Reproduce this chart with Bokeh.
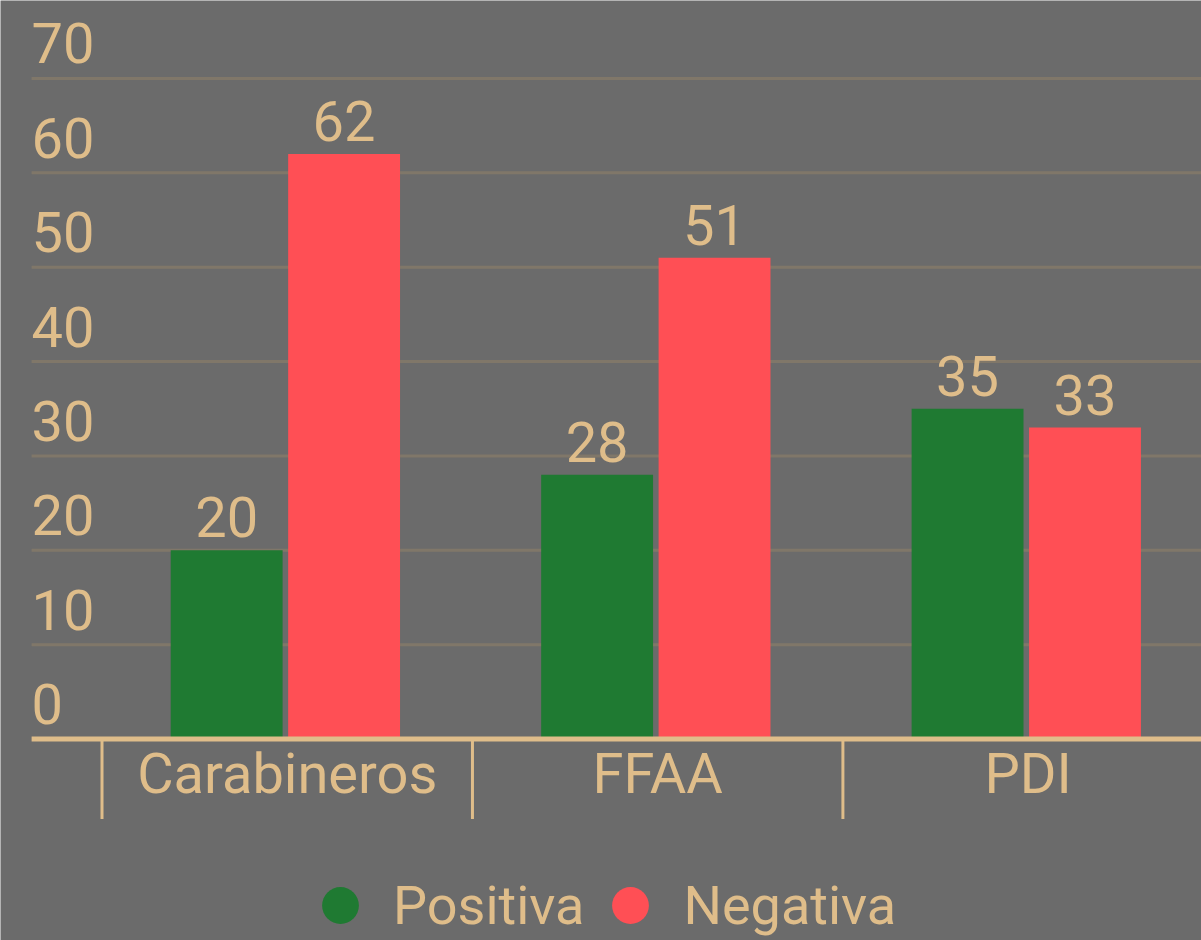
from bokeh.plotting import figure
from bokeh.models import Range1d, Legend, LegendItem, ColumnDataSource
from bokeh.core.properties import value
from bokeh.transform import dodge
from bokeh.embed import file_html
from bokeh.resources import INLINE

# ---- data ----
categories = ["Carabineros", "FFAA", "PDI"]
positiva = [20, 28, 35]
negativa = [62, 51, 33]
y_ticks = [0, 10, 20, 30, 40, 50, 60, 70]
series_names = ["Positiva", "Negativa"]

# ---- style ----
BG = "#6b6b6b"
TAN = "#dfbd8a"
GRID = "#807769"
GREEN = "#1f7a32"
RED = "#ff4f55"
FONT = "Roboto"

W, H = 1201, 940
Y0, Y1 = -21.35, 78.26
X0, X1 = -0.274, 2.968
CONTENT_LEFT = -0.19          # where grid lines and tick labels start
px_per_unit = H / (Y1 - Y0)

p = figure(width=W, height=H, output_backend="svg", toolbar_location=None,
           x_range=Range1d(X0, X1), y_range=Range1d(Y0, Y1),
           x_axis_location=None, y_axis_location=None,
           min_border_left=0, min_border_right=0, min_border_top=0, min_border_bottom=0,
           background_fill_color=BG, border_fill_color=BG, outline_line_color=None)

p.xgrid.visible = False
p.ygrid.visible = False

# horizontal grid lines (start at the content's left edge, as in the original)
gy = y_ticks[1:]
p.segment(x0=[CONTENT_LEFT] * len(gy), y0=gy, x1=[X1] * len(gy), y1=gy,
          line_color=GRID, line_width=3)

xs = [i + 0.5 for i in range(len(categories))]
src = ColumnDataSource(dict(x=xs, cat=categories, pos=positiva, neg=negativa,
                            pos_t=[str(v) for v in positiva], neg_t=[str(v) for v in negativa]))

BW = 0.302
DL, DR = -0.1635, 0.1535
p.vbar(x=dodge("x", DL), top="pos", width=BW, source=src, fill_color=GREEN, line_color=None)
p.vbar(x=dodge("x", DR), top="neg", width=BW, source=src, fill_color=RED, line_color=None)

NUM_SIZE = "56px"
# value labels
p.text(x=dodge("x", DL), y="pos", text="pos_t", source=src, y_offset=-33,
       text_align="center", text_baseline="alphabetic", text_font=value(FONT),
       text_font_size=NUM_SIZE, text_color=TAN)
p.text(x=dodge("x", DR), y="neg", text="neg_t", source=src, y_offset=-33,
       text_align="center", text_baseline="alphabetic", text_font=value(FONT),
       text_font_size=NUM_SIZE, text_color=TAN)

# y tick labels inside the plot
p.text(x=[CONTENT_LEFT] * len(y_ticks), y=y_ticks, text=[str(t) for t in y_ticks], y_offset=-35,
       text_align="left", text_baseline="alphabetic", text_font=value(FONT),
       text_font_size=NUM_SIZE, text_color=TAN)

# baseline
p.segment(x0=[CONTENT_LEFT], y0=[0], x1=[X1], y1=[0], line_color=TAN, line_width=5)

# category dividers
bounds = list(range(len(categories) + 1))
div_len = 80 / px_per_unit
p.segment(x0=bounds, y0=[0] * len(bounds), x1=bounds, y1=[-div_len] * len(bounds),
          line_color=TAN, line_width=3)

# category labels
p.text(x="x", y=0, text="cat", source=src, y_offset=35, text_align="center",
       text_baseline="alphabetic", text_font=value(FONT), text_font_size="56px",
       text_color=TAN)

# legend
nan = float("nan")
r1 = p.scatter(x=[nan], y=[nan], marker="circle", fill_color=GREEN, line_color=None)
r2 = p.scatter(x=[nan], y=[nan], marker="circle", fill_color=RED, line_color=None)
legend = Legend(items=[LegendItem(label=series_names[0], renderers=[r1]),
                       LegendItem(label=series_names[1], renderers=[r2])],
                location=(294, -11), orientation="horizontal",
                glyph_width=92, glyph_height=92, label_standoff=7, spacing=0,
                padding=0, margin=0, background_fill_alpha=0, border_line_alpha=0,
                label_text_font=FONT, label_text_font_size="54px", label_text_color=TAN)
p.add_layout(legend)

open("out.html", "w").write(file_html(p, INLINE))
